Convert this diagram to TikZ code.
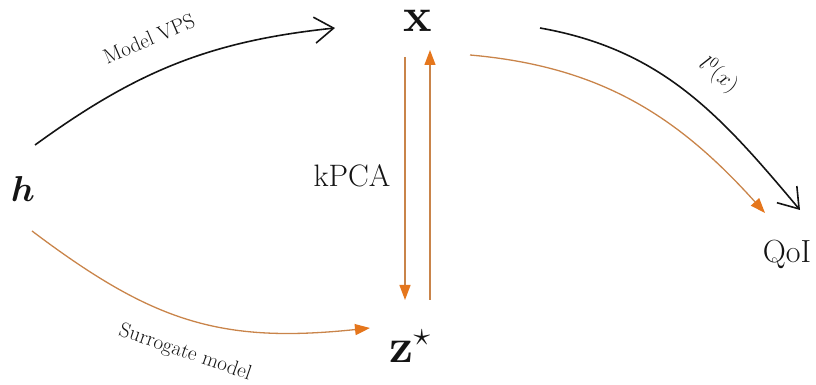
\RequirePackage{fix-cm}
\documentclass[tikz,border=0pt]{standalone}
\usepackage{bm}
\usetikzlibrary{arrows.meta}
\definecolor{mapOrange}{HTML}{E5761C}
\definecolor{mapLine}{HTML}{C9844A}
\definecolor{mapInk}{HTML}{141414}
\tikzset{
  map diagram/.style={
    x=1pt, y=1pt,
    every node/.style={inner sep=0pt, outer sep=0pt, anchor=base, text=mapInk}
  },
  map exact/.style={draw=mapInk, line width=1.6pt,
    -{Straight Barb[length=19pt,width=26pt,line width=1.6pt]}},
  map surrogate/.style={draw=mapLine, line width=1.3pt,
    -{Triangle[length=15pt,width=11pt,color=mapOrange]}},
  map label/.style={font=\fontsize{21}{24}\selectfont}
}

\begin{document}
\begin{tikzpicture}[map diagram]
    \useasboundingbox (0,0) rectangle (816,385);
    \node (h) at (23,183) {\fontsize{36}{40}\selectfont$\bm{h}$};
    \node (x) at (418,353) {\fontsize{48}{50}\selectfont$\mathbf{x}$};
    \node (z) at (410,22) {\fontsize{48}{50}\selectfont$\mathbf{z}^{\star}$};
    \node (qoi) at (787,122) {\fontsize{32}{36}\selectfont QoI};
    \node (kpca) at (352,198) {\fontsize{31}{34}\selectfont kPCA};
    \draw[map exact] ([shift={(12,57)}]h.base) to[out=36,in=186]
      node[map label, sloped, above=26pt, pos=0.45] {Model VPS} ([shift={(-83,4)}]x.base);
    \draw[map surrogate] ([shift={(9,-29)}]h.base) to[out=-37,in=186, looseness=1.1]
      node[map label, rotate=-19, below=24pt, pos=0.52] {Surrogate model} ([shift={(-40,35)}]z.base);
    \draw[map surrogate] ([shift={(-13,-25)}]x.base) -- ([shift={(-5,63)}]z.base);
    \draw[map surrogate] ([shift={(20,63)}]z.base) -- ([shift={(12,-18)}]x.base);
    \draw[map exact] ([shift={(122,4)}]x.base) to[out=-10,in=130]
      node[map label, font=\fontsize{22}{24}\selectfont, anchor=center, xshift=21pt, yshift=26pt, rotate=-38, pos=0.55] {$l^0(x)$} ([shift={(13,53)}]qoi.base);
    \draw[map surrogate] ([shift={(52,-23)}]x.base) to[out=-5,in=132] ([shift={(-22,50)}]qoi.base);
\end{tikzpicture}
\end{document}
